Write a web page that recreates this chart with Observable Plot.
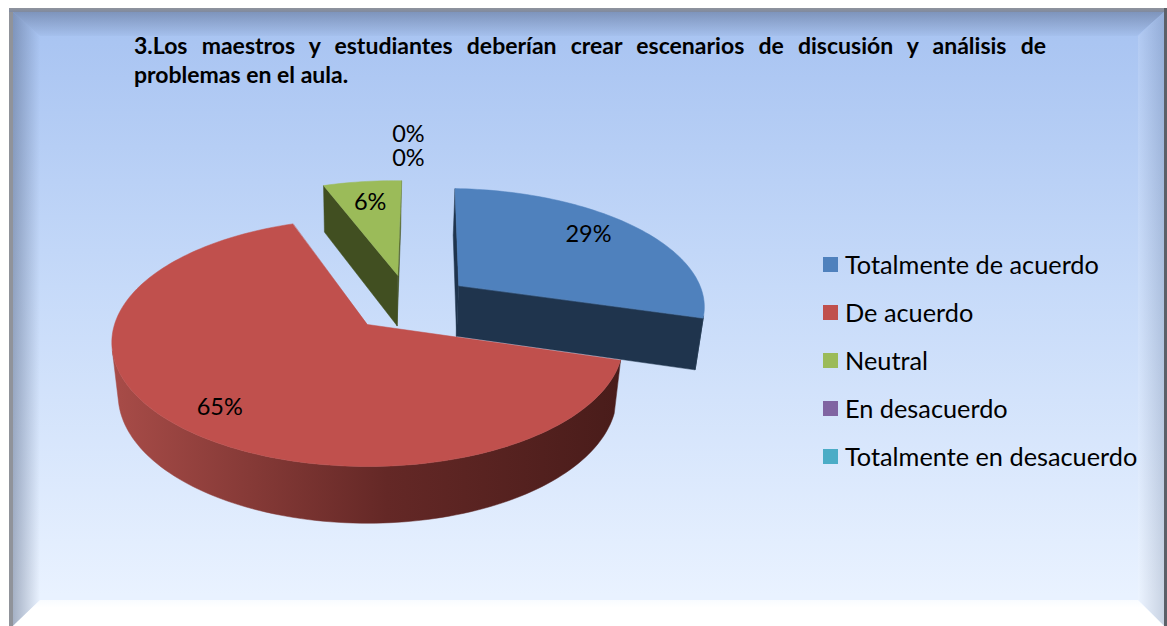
<!DOCTYPE html>
<html lang="es">
<head>
<meta charset="utf-8">
<script src="https://cdn.jsdelivr.net/npm/d3@7"></script>
<script src="https://cdn.jsdelivr.net/npm/@observablehq/plot@0.6"></script>
<style>
html,body{margin:0;padding:0;background:#fff;}
#wrap{position:relative;width:1167px;height:626px;overflow:hidden;font-family:Lato,"Open Sans",sans-serif;color:#000;}
.layer{position:absolute;}
#panel{left:9px;top:8px;width:1157px;height:618px;background:linear-gradient(180deg,#a6c2f1 0%,#c6daf9 45%,#e9f2ff 95%);}
#borderL{left:9px;top:8px;width:4px;height:618px;background:#90939a;}
#borderT{left:9px;top:8px;width:1157px;height:4px;background:linear-gradient(180deg,#8f939c,#7f8aa0);}
#borderR{left:1164px;top:8px;width:3px;height:618px;background:#5b6068;}
#bevT{left:13px;top:12px;width:1151px;height:24px;clip-path:polygon(0 0,100% 0,calc(100% - 27px) 100%,27px 100%);background:linear-gradient(180deg,rgba(70,85,115,.42),rgba(70,85,115,.04));}
#bevL{left:13px;top:12px;width:27px;height:614px;clip-path:polygon(0 0,100% 24px,100% calc(100% - 26px),0 100%);background:linear-gradient(90deg,rgba(70,85,115,.42),rgba(70,85,115,0));}
#bevR{left:1138px;top:12px;width:26px;height:614px;clip-path:polygon(100% 0,0 24px,0 calc(100% - 26px),100% 100%);background:linear-gradient(270deg,rgba(70,85,115,.2),rgba(255,255,255,.12));}
#bevB{left:13px;top:600px;width:1151px;height:26px;clip-path:polygon(27px 0,calc(100% - 26px) 0,100% 100%,0 100%);background:linear-gradient(180deg,#f8fbff,#fff 30%);}
#chart{left:0;top:0;}
#title{left:134px;top:31px;width:912px;font-weight:700;font-size:23px;line-height:29px;}
#title div:first-child{text-align:justify;text-align-last:justify;}
#legend{left:823px;top:240px;font-size:25.3px;}
#legend div{display:flex;align-items:center;height:48px;white-space:nowrap;}
#legend i{display:block;width:15px;height:15px;margin-right:7px;}
</style>
</head>
<body>
<div id="wrap">
  <div class="layer" id="panel"></div>
  <div class="layer" id="bevT"></div>
  <div class="layer" id="bevL"></div>
  <div class="layer" id="bevR"></div>
  <div class="layer" id="bevB"></div>
  <div class="layer" id="borderL"></div>
  <div class="layer" id="borderT"></div>
  <div class="layer" id="borderR"></div>
  <div class="layer" id="chart"></div>
  <div class="layer" id="title"></div>
  <div class="layer" id="legend"></div>
</div>
<script>
const titleLines = ["3.Los maestros y estudiantes deberían crear escenarios de discusión y análisis de", "problemas en el aula."];
const categories = ["Totalmente de acuerdo", "De acuerdo", "Neutral", "En desacuerdo", "Totalmente en desacuerdo"];
const percents = [29, 65, 6, 0, 0];
const topColors = ["#4F81BD", "#C0504D", "#9BBB59", "#8064A2", "#4BACC6"];
const sideColors = ["#1F344D", "#4A1C1A", "#414F21", "#4C3C61", "#2D6676"];

// camera of the 3D pie (plane units -> screen pixels)
const view = {cx: 367, cy: 324, a: 253, b: 121.4, c: 53.5, k: 0.145, m: 0.025, startDeg: 2};
const explodeU = [0.378, 0, 0.127, 0, 0];
const explodeV = [-0.337, 0, -0.43, 0, 0];
const labelRadius = [0.73, 0.78, 0.75, 1.87, 1.87];
const labelDy = [-7, 8, 0, -12, 12];
const redWallStops = [[0, "#A84C48"], [0.54, "#642826"], [1, "#491C1A"]];

function project(u, v, z) {
  const w = 1 - view.k * v - view.m * z;
  return {x: view.cx + view.a * u / w, y: view.cy + (view.b * v - view.c * z) / w};
}
const rad = d => d * Math.PI / 180;
const onPlane = (i, deg, r) => [explodeU[i] + r * Math.sin(rad(deg)), explodeV[i] - r * Math.cos(rad(deg))];
const area = pts => d3.sum(pts, (p, j) => { const q = pts[(j + 1) % pts.length]; return p.x * q.y - q.x * p.y; });

let acc = view.startDeg;
const slices = percents.map((p, i) => {
  const s = {i, start: acc, end: acc + p * 3.6};
  s.mid = (s.start + s.end) / 2;
  acc = s.end;
  return s;
});

const polys = [];
let pid = 0;
function addPoly(pts, color) {
  const id = pid++;
  pts.forEach(p => polys.push({id, color, x: p.x, y: p.y}));
}
const order = slices.filter(s => percents[s.i] > 0).sort((a, b) => Math.cos(rad(b.mid)) - Math.cos(rad(a.mid)));
let wallX = [0, 1];
for (const s of order) {
  const i = s.i;
  const steps = d3.range(s.start, s.end, 1.5).concat([s.end]);
  const apex = [explodeU[i], explodeV[i]];
  // radial faces, only when they face the viewer
  [[s.start, -1], [s.end, 1]].forEach(([d, sign]) => {
    const o = onPlane(i, d, 1);
    const q = [project(...apex, 0), project(...o, 0), project(...o, -1), project(...apex, -1)];
    if (area(q) * sign > 0) addPoly(q, sideColors[i]);
  });
  // outer wall, only the part that faces the viewer
  const seen = d3.pairs(steps).filter(([d0, d1]) => {
    const p0 = onPlane(i, d0, 1), p1 = onPlane(i, d1, 1);
    return area([project(...p0, 0), project(...p1, 0), project(...p1, -1), project(...p0, -1)]) < 0;
  });
  if (seen.length) {
    const ds = [seen[0][0], ...seen.map(e => e[1])];
    const topPart = ds.map(d => project(...onPlane(i, d, 1), 0));
    const botPart = ds.map(d => project(...onPlane(i, d, 1), -1)).reverse();
    if (i === 1) wallX = d3.extent(topPart.concat(botPart), p => p.x);
    addPoly([...topPart, ...botPart], i === 1 ? "url(#redWall)" : sideColors[i]);
  }
  // top face
  addPoly([project(...apex, 0), ...steps.map(d => project(...onPlane(i, d, 1), 0))], topColors[i]);
}

const labels = slices.map(s => {
  const i = s.i;
  const deg = percents[i] > 0 ? s.mid : s.mid + 4.3;
  const q = project(...onPlane(i, deg, labelRadius[i]), 0);
  return {x: q.x, y: q.y + labelDy[i], text: percents[i] + "%"};
});

const chart = Plot.plot({
  width: 1167, height: 626, margin: 0,
  style: {background: "transparent", overflow: "visible"},
  x: {domain: [0, 1167], range: [0, 1167], axis: null},
  y: {domain: [0, 626], range: [0, 626], axis: null},
  marks: [
    Plot.line(polys, {x: "x", y: "y", z: "id", fill: "color", stroke: "color", strokeWidth: 0.5, curve: "linear-closed"}),
    Plot.text(labels, {x: "x", y: "y", text: "text", fontSize: 23.5, fontFamily: "Lato, 'Open Sans', sans-serif", fill: "#000"})
  ]
});
const grad = d3.select(chart).insert("defs", ":first-child").append("linearGradient")
  .attr("id", "redWall").attr("gradientUnits", "userSpaceOnUse")
  .attr("x1", wallX[0]).attr("x2", wallX[1]).attr("y1", 0).attr("y2", 0);
redWallStops.forEach(([o, c]) => grad.append("stop").attr("offset", o).attr("stop-color", c));
document.getElementById("chart").appendChild(chart);
const titleEl = d3.select("#title");
titleLines.forEach(t => titleEl.append("div").text(t));
const legend = d3.select("#legend");
categories.forEach((c, i) => {
  const row = legend.append("div");
  row.append("i").style("background", topColors[i]);
  row.append("span").text(c);
});
</script>
</body>
</html>
